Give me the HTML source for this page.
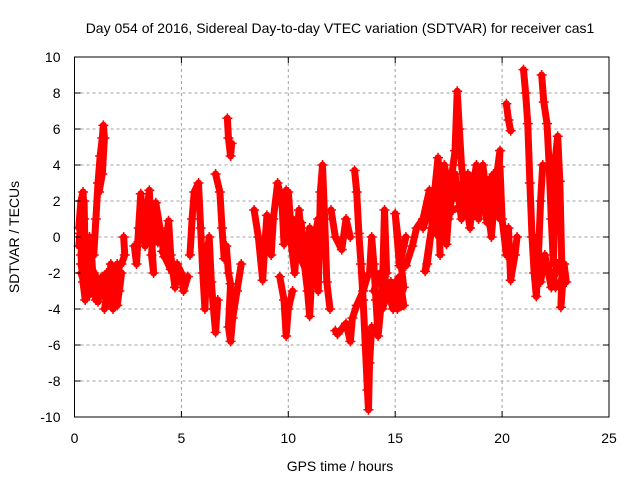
<!DOCTYPE html>
<html><head><meta charset="utf-8"><style>
body{margin:0;background:#fff;}
svg{display:block;font-family:"Liberation Sans",sans-serif;}
</style></head><body>
<svg id="chart" width="640" height="480">
<rect width="640" height="480" fill="#fff"/>
<g id="grid"></g><g id="marks"></g><g id="axes"></g>
<text x="340" y="33" text-anchor="middle" font-size="14">Day 054 of 2016, Sidereal Day-to-day VTEC variation (SDTVAR) for receiver cas1</text>
<text x="340" y="471" text-anchor="middle" font-size="14">GPS time / hours</text>
<text transform="translate(19,237) rotate(-90)" text-anchor="middle" font-size="14">SDTVAR / TECUs</text>
</svg>
<script>
const xTicks=[0,5,10,15,20,25];
const yTicks=[-10,-8,-6,-4,-2,0,2,4,6,8,10];
const track1=[[0.2,0.5],[0.3,2],[0.4,2.5],[0.45,1],[0.3,-1],[0.4,-2.5],[0.5,-3.5],[0.6,-2],[0.7,0],[0.8,-1],[0.9,-3],[1.0,-3.5],[1.1,-2.5],[0.6,-3],[0.3,-2]];
const track2=[[0.9,-1],[1.0,1],[1.1,3],[1.2,4.5],[1.3,5.5],[1.35,6.2],[1.4,5.5],[1.3,3.5],[1.15,2.5]];
const track3=[[1.3,-3],[1.5,-2],[1.6,-3.5],[1.7,-1.5],[1.8,-4],[1.9,-2.5],[2.0,-1.5],[2.1,-3],[2.2,-2],[2.0,-3.8],[1.6,-2.8],[1.4,-4]];
const track4=[[2.3,0],[2.35,-1],[2.2,-1.5]];
const track5=[[2.8,-0.5],[2.9,-1.5],[3.0,0.5],[3.1,2.4],[3.2,1],[3.3,-0.5],[3.4,1.5],[3.5,2.6],[3.6,0],[3.7,-2],[3.6,-1],[3.8,1.9],[4.0,0.5],[4.2,-1.1],[4.4,0.9],[4.5,-1],[4.7,-2.8],[4.8,-1.5],[5.0,-2],[5.1,-3],[5.3,-2.2]];
const track6=[[5.4,-1],[5.5,1],[5.6,2.5],[5.8,3],[5.9,0.5],[6.0,-2],[6.1,-4],[6.2,-1],[6.3,0],[6.4,-2.5],[6.5,-4],[6.6,-5.3],[6.7,-3.5]];
const track7=[[6.6,3.5],[6.8,2.5],[6.9,0.5],[7.0,-1.2],[7.1,-0.5],[7.2,-2],[7.3,-2.6],[7.2,-5],[7.3,-5.8],[7.4,-4.5],[7.6,-3],[7.8,-1.5]];
const track8=[[7.15,6.6],[7.2,5.5],[7.3,4.5],[7.35,5.2]];
const track9=[[8.4,1.5],[8.6,0],[8.8,-2.4],[8.9,-0.5],[9.0,1.2],[9.2,-1],[9.3,1],[9.5,3],[9.7,2],[9.8,-0.4],[10.0,2.5],[10.1,1]];
const track10=[[9.6,-2.2],[9.8,-3.5],[9.9,-5.5],[10.0,-4],[10.2,-3]];
const track11=[[9.9,2.6],[10.1,0],[10.3,-2],[10.5,1.5],[10.7,-1],[10.9,-3],[11.0,-4.4],[11.1,-2],[11.3,0],[11.4,-3],[11.5,2.5],[11.6,4],[11.7,1],[11.8,-2.5],[11.95,-4]];
const track12=[[12.0,1.5],[12.2,0],[12.5,-0.7],[12.7,1],[12.9,0]];
const track13=[[12.2,-5.2],[12.3,-5.4],[12.7,-4.8],[12.9,-5.8],[13.0,-4.5],[13.2,-3.8],[13.5,-3],[13.7,-2.2]];
const track14=[[13.1,3.7],[13.2,2.5],[13.3,0.2],[13.4,-1.5],[13.5,-3.5],[13.6,-6],[13.7,-8.5],[13.75,-9.6],[13.8,-7],[13.9,-5]];
const track15=[[13.8,-2],[13.9,0],[14.0,-1.5],[14.1,-3.5],[14.2,-5.5],[14.4,-3],[14.5,1.5],[14.6,-2]];
const track16=[[14.5,-2.2],[14.7,-3.2],[14.9,-4],[15.0,-2.5],[15.2,-3.5],[15.4,-2.8],[15.0,1.3],[15.2,-1.6],[15.5,0]];
const track17=[[15.5,-1.6],[15.8,-0.5],[16.0,0.5],[16.3,1],[16.6,2.6],[16.8,1.5],[16.5,-1.5],[16.4,-1.9],[16.7,0.5],[17.0,3],[17.1,-1]];
const track18=[[16.8,2],[17.0,4.4],[17.2,2],[17.4,-0.4],[17.6,3],[17.8,4.8],[17.9,8.1],[18.0,6],[18.1,4],[18.3,2],[18.5,0.5],[18.7,3.5],[18.9,1],[19.1,4],[19.3,2],[19.5,0],[19.7,3],[19.9,4.8],[19.8,2]];
const track19=[[19.9,3.9],[20.0,1],[20.2,-1],[20.3,0.5],[20.4,-2.4],[20.6,-1],[20.7,0]];
const track20=[[20.2,7.4],[20.3,6.5],[20.4,5.9]];
const track21=[[21.0,9.3],[21.1,8],[21.2,6.3],[21.3,3],[21.4,0],[21.5,-2],[21.6,-3.3],[21.7,-1],[21.8,2],[21.9,4]];
const track22=[[21.85,9],[21.95,7.5],[22.1,6.3],[22.2,4],[22.3,1],[22.4,-1.5],[22.5,4.5],[22.6,5.6],[22.7,3.1],[22.8,-2],[22.75,-3.9],[22.9,-1.5],[23.0,-2.5]];
const track23=[[0.3,-1.5],[0.5,-2.8],[0.7,-3.2],[0.9,-2],[1.1,-3.6],[1.3,-2.2],[1.5,-3.8],[1.7,-2.6],[1.9,-3.4],[2.1,-1.6],[1.8,-2],[1.4,-3],[1.0,-2.2],[0.6,-1.2]];
const track24=[[0.25,0.2],[0.35,1.5],[0.2,-0.5],[0.45,2],[0.5,-1.5]];
const track25=[[16.3,0.5],[16.6,1.5],[16.9,0.2],[17.2,3],[17.5,1],[17.8,3.5],[18.1,1],[18.4,3.5],[18.7,1.2],[19.0,3],[19.3,0.8],[19.6,2.5],[19.9,1],[19.6,3.5],[19.2,1.5],[18.8,4],[18.4,1.2],[18.0,2.5],[17.6,2],[17.3,4]];
const track26=[[17.5,2.5],[18.2,3],[18.6,2],[19.4,3.2],[19.0,2],[18.3,1.8],[17.7,1.5]];
const track27=[[14.0,-3],[14.3,-2],[14.6,-3.5],[14.9,-2.8],[15.2,-2.2],[15.4,-3.8],[15.1,-4],[14.8,-2.5],[14.4,-4]];
const track28=[[10.2,1],[10.4,-0.5],[10.6,0.8],[10.8,-1.5],[11.0,0.5],[11.2,-1],[11.4,1],[10.9,-2],[10.5,-1]];
const track29=[[21.5,0],[21.8,-2.5],[22.0,-1],[22.3,-2.8],[22.6,-1.5],[22.9,-2.2],[22.5,-2.8],[22.1,-1.5],[21.7,-1.8]];
const track30=[[3.3,1.2],[3.6,0.5],[3.9,-0.3],[4.3,0.2],[4.6,-2],[4.9,-2.4],[4.5,-1.8],[4.1,-0.8]];
const tracks=[track1,track2,track3,track4,track5,track6,track7,track8,track9,track10,track11,track12,track13,track14,track15,track16,track17,track18,track19,track20,track21,track22,track23,track24,track25,track26,track27,track28,track29,track30];
const L=74.5,R=609,T=57,B=417;
const xs=t=>L+(t-0)/25*(R-L);
const ys=v=>B-(v+10)/20*(B-T);
const NS="http://www.w3.org/2000/svg";
const grid=document.getElementById('grid'),marks=document.getElementById('marks'),axes=document.getElementById('axes');
function mk(tag,attrs,parent){const e=document.createElementNS(NS,tag);for(const k in attrs)e.setAttribute(k,attrs[k]);parent.appendChild(e);return e;}
xTicks.forEach(t=>{const x=xs(t);
 if(t>0&&t<25){const g=mk('line',{x1:x,x2:x,y1:T,y2:B,stroke:'#a0a0a0','stroke-dasharray':'3,3'},grid);
 
 }
 const lab=mk('text',{x:x,y:B+26,'text-anchor':'middle','font-size':14},axes);lab.textContent=t;
 
 
 mk('line',{x1:x,x2:x,y1:B,y2:B-6,stroke:'#000'},axes);mk('line',{x1:x,x2:x,y1:T,y2:T+6,stroke:'#000'},axes);});
yTicks.forEach(v=>{const y=ys(v);
 if(v>-10&&v<10){const g=mk('line',{x1:L,x2:R,y1:y,y2:y,stroke:'#a0a0a0','stroke-dasharray':'3,3'},grid);
 
 }
 const lab=mk('text',{x:L-14,y:y+5,'text-anchor':'end','font-size':14},axes);lab.textContent=v;
 
 
 mk('line',{x1:L,x2:L+6,y1:y,y2:y,stroke:'#000'},axes);mk('line',{x1:R,x2:R-6,y1:y,y2:y,stroke:'#000'},axes);});
const fr=mk('rect',{x:L,y:T,width:R-L,height:B-T,fill:'none',stroke:'#000'},axes);


tracks.forEach(tr=>{
 const pl=mk('polyline',{points:tr.map(p=>xs(p[0])+','+ys(p[1])).join(' '),fill:'none',stroke:'#f00','stroke-width':7,'stroke-linejoin':'round','stroke-linecap':'round'},marks);
 
 
 tr.forEach(p=>{const x=xs(p[0]),y=ys(p[1]);
  const m=mk('path',{d:`M${x-5},${y}H${x+5}M${x},${y-5}V${y+5}`,stroke:'#f00','stroke-width':1.5},marks);
  
  });
});
</script>
</body></html>
